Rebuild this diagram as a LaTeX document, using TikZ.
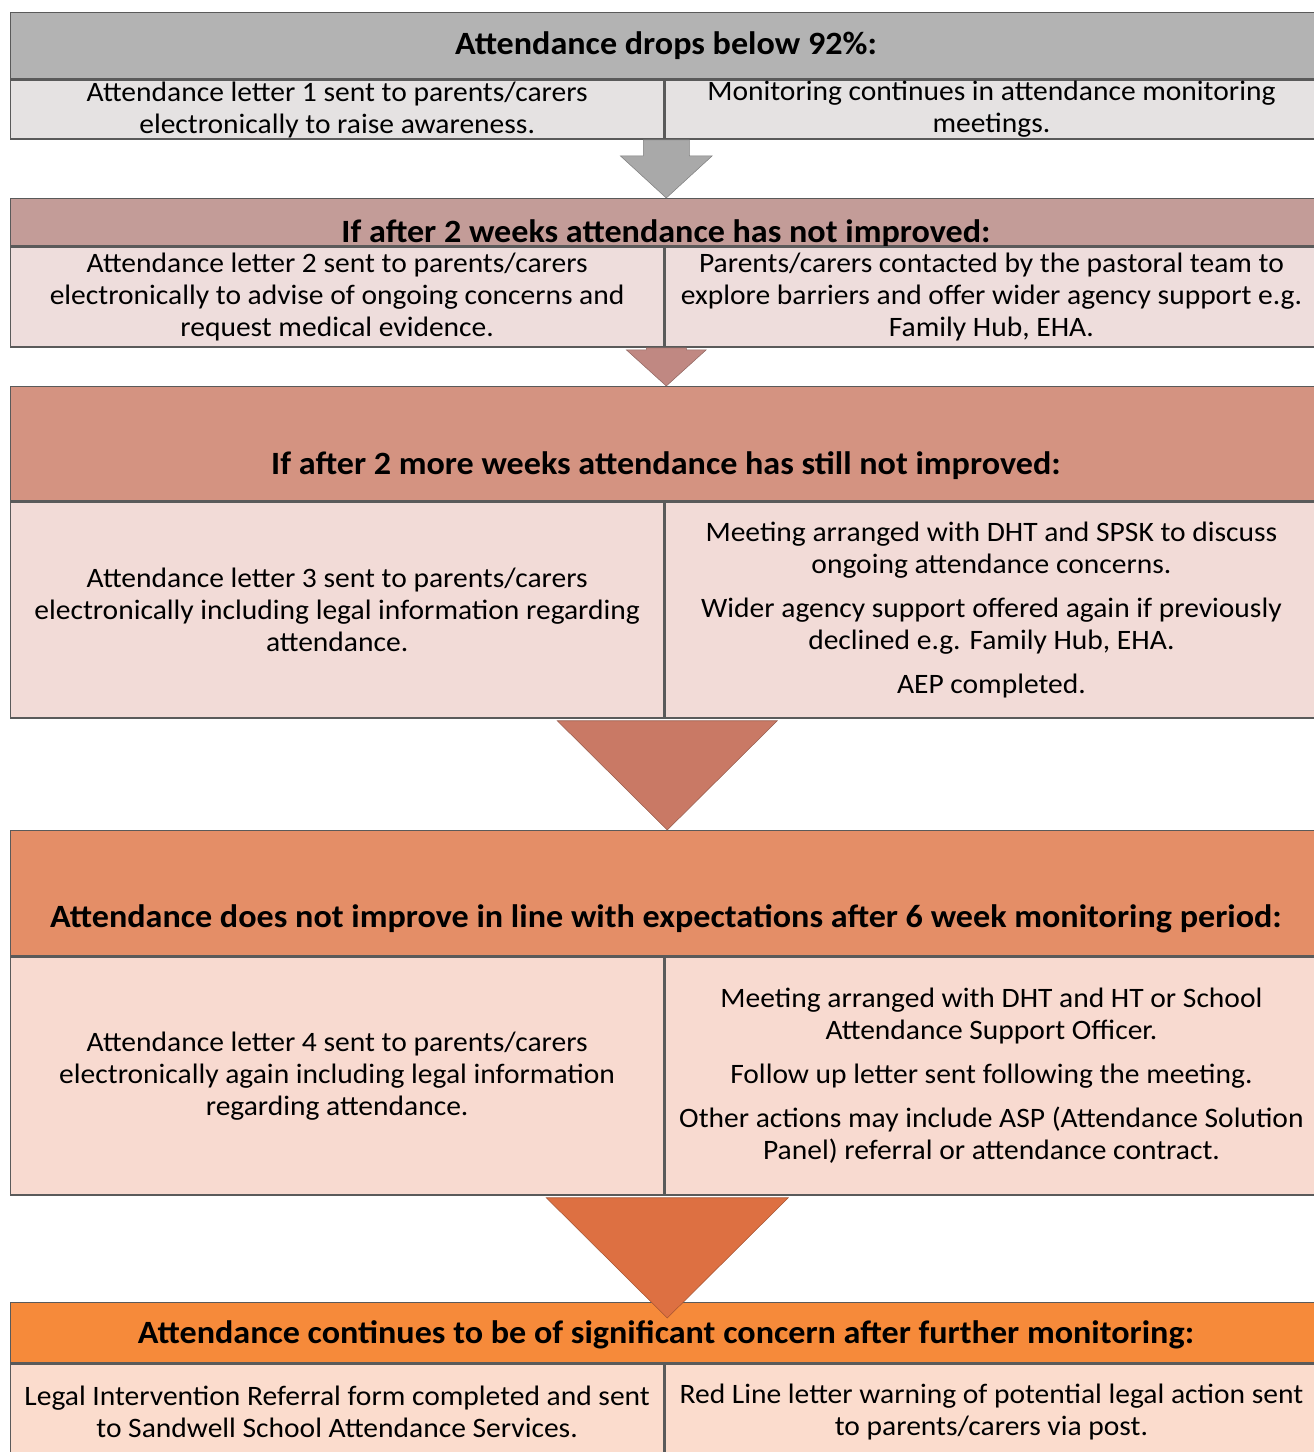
\documentclass[tikz,border=0pt]{standalone}
\usepackage{fontspec}
\setmainfont[FakeStretch=1.05]{Carlito}
\usetikzlibrary{positioning,calc}

\definecolor{edgegray}{HTML}{5A5A5A}
\definecolor{headA}{HTML}{B3B3B3}
\definecolor{subA}{HTML}{E5E2E2}
\definecolor{headB}{HTML}{C39C98}
\definecolor{subB}{HTML}{EEDDDC}
\definecolor{headC}{HTML}{D49381}
\definecolor{subC}{HTML}{F2DBD7}
\definecolor{headD}{HTML}{E48E67}
\definecolor{subD}{HTML}{F8DAD0}
\definecolor{headE}{HTML}{F68A3A}
\definecolor{subE}{HTML}{FBDCCD}
\definecolor{arrowA}{HTML}{A9A9A9}
\definecolor{arrowB}{HTML}{C08882}
\definecolor{arrowC}{HTML}{C97965}
\definecolor{arrowD}{HTML}{DD7042}

\newcommand{\bodysize}{\fontsize{16}{18.2}\selectfont}
\newcommand{\headsize}{\fontsize{18.5}{21}\selectfont\bfseries}

\tikzset{
  headbox/.style={draw=edgegray, line width=0.8pt, minimum width=26.16cm,
    anchor=north west, inner sep=0pt},
  subbox/.style={draw=edgegray, line width=0.8pt, minimum width=13.06cm,
    anchor=north west, inner sep=0pt, align=center, font=\bodysize},
  headtext/.style={anchor=base, inner sep=0pt, font=\headsize},
  stagearrow/.style={draw=#1!75!black, line width=0.3pt, fill=#1},
}

\begin{document}
\begin{tikzpicture}[x=0.02cm, y=-0.02cm]
\useasboundingbox (0,0) rectangle (1313,1452);

% stage 1
\node[headbox, fill=headA, minimum height=1.32cm] (h1) at (10,12) {};
\node[headtext] (t1) at (666,55) {Attendance drops below 92\%:};
\node[subbox, fill=subA, minimum height=1.18cm] (s1l) at (h1.south west)
  {Attendance letter 1 sent to parents/carers\\electronically to raise awareness.};
\node[subbox, fill=subA, minimum height=1.18cm] (s1r) at (s1l.north east)
  {Monitoring continues in attendance monitoring\\meetings.};

% stage 2
\node[headbox, fill=headB, minimum height=0.94cm] (h2) at (10,198) {};
\node[headtext] (t2) at (666,243) {If after 2 weeks attendance has not improved:};
\node[subbox, fill=subB, minimum height=2cm] (s2l) at (h2.south west)
  {Attendance letter 2 sent to parents/carers\\electronically to advise of ongoing concerns and\\request medical evidence.};
\node[subbox, fill=subB, minimum height=2cm] (s2r) at (s2l.north east)
  {Parents/carers contacted by the pastoral team to\\explore barriers and offer wider agency support e.g.\\Family Hub, EHA.};

% stage 3
\node[headbox, fill=headC, minimum height=2.28cm] (h3) at (10,386) {};
\node[headtext] (t3) at (666,475) {If after 2 more weeks attendance has still not improved:};
\node[subbox, fill=subC, minimum height=4.32cm] (s3l) at (h3.south west)
  {Attendance letter 3 sent to parents/carers\\electronically including legal information regarding\\attendance.};
\node[subbox, fill=subC, minimum height=4.32cm] (s3r) at (s3l.north east)
  {Meeting arranged with DHT and SPSK to discuss\\ongoing attendance concerns.\\[0.24cm]
   Wider agency support offered again if previously\\declined e.g. Family Hub, EHA.\\[0.24cm]
   AEP completed.};

% stage 4
\node[headbox, fill=headD, minimum height=2.5cm] (h4) at (10,830) {};
\node[headtext] (t4) at (666,927) {Attendance does not improve in line with expectations after 6 week monitoring period:};
\node[subbox, fill=subD, minimum height=4.76cm] (s4l) at (h4.south west)
  {Attendance letter 4 sent to parents/carers\\electronically again including legal information\\regarding attendance.};
\node[subbox, fill=subD, minimum height=4.76cm] (s4r) at (s4l.north east)
  {Meeting arranged with DHT and HT or School\\Attendance Support Officer.\\[0.24cm]
   Follow up letter sent following the meeting.\\[0.24cm]
   Other actions may include ASP (Attendance Solution\\Panel) referral or attendance contract.};

% stage 5
\node[headbox, fill=headE, minimum height=1.2cm] (h5) at (10,1302) {};
\node[headtext] (t5) at (666,1343) {Attendance continues to be of significant concern after further monitoring:};
\node[subbox, fill=subE, minimum height=1.92cm] (s5l) at (h5.south west)
  {Legal Intervention Referral form completed and sent\\to Sandwell School Attendance Services.};
\node[subbox, fill=subE, minimum height=1.92cm] (s5r) at (s5l.north east)
  {Red Line letter warning of potential legal action sent\\to parents/carers via post.};

% arrows between the stages
\coordinate (a1) at ($(s1l.south east)+(2,0)$);
\fill[stagearrow=arrowA] ($(a1)+(-23,0)$) -- ($(a1)+(23,0)$) -- ($(a1)+(23,16)$)
  -- ($(a1)+(46,16)$) -- (h2.north -| a1) -- ($(a1)+(-46,16)$) -- ($(a1)+(-23,16)$) -- cycle;
\coordinate (a2) at ($(s2l.south east)+(2,0)$);
\fill[stagearrow=arrowB] ($(a2)+(-20,0)$) -- ($(a2)+(20,0)$) -- ($(a2)+(20,2)$)
  -- ($(a2)+(40,2)$) -- (h3.north -| a2) -- ($(a2)+(-40,2)$) -- ($(a2)+(-20,2)$) -- cycle;
\coordinate (a3) at ($(s3l.south east)+(3,0)$);
\fill[stagearrow=arrowC] ($(a3)+(-110,2)$) -- ($(a3)+(110,2)$) -- (h4.north -| a3) -- cycle;
\coordinate (a4) at ($(s4l.south east)+(3,0)$);
\fill[stagearrow=arrowD] ($(a4)+(-121,2)$) -- ($(a4)+(121,2)$) -- ($(h5.north -| a4)+(0,16)$) -- cycle;
\end{tikzpicture}
\end{document}
